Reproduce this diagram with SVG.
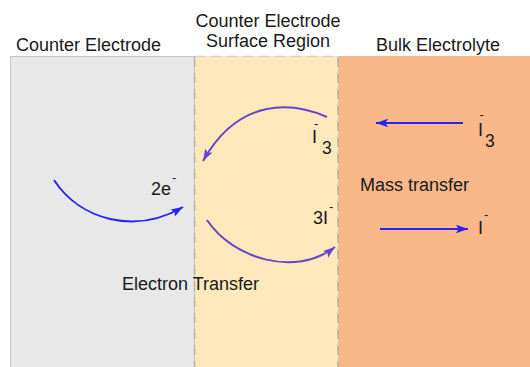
<svg xmlns="http://www.w3.org/2000/svg" width="530" height="367" viewBox="0 0 530 367">
<style>
text{font-family:"Liberation Sans",Arial,sans-serif;font-size:18px;fill:#1a1a1a}
.sub{font-size:17.5px}
.sup{font-size:13px}
.blue{stroke:#2a22f2;stroke-width:2;fill:none}
.purple{stroke:#6a44cc;stroke-width:2;fill:none}
.sep{stroke:#b8b0a8;stroke-width:1.5;stroke-dasharray:10,6;fill:none}
</style>
<defs>
<marker id="ab" markerUnits="userSpaceOnUse" markerWidth="14" markerHeight="10" refX="12" refY="5" orient="auto">
<path d="M0,0.8 L12,5 L0,9.2 L2.5,5 z" fill="#2a22f2"/>
</marker>
<marker id="ap" markerUnits="userSpaceOnUse" markerWidth="14" markerHeight="10" refX="12" refY="5" orient="auto">
<path d="M0,0.8 L12,5 L0,9.2 L2.5,5 z" fill="#6a44cc"/>
</marker>
</defs>
<rect width="530" height="367" fill="#ffffff"/>
<g id="counter-electrode">
<rect x="10.5" y="56.5" width="184" height="311" fill="#e8e8e8" stroke="#c6c6c6" stroke-width="1"/>
<text x="16" y="51">Counter Electrode</text>
</g>
<g id="surface-region">
<rect x="195" y="56" width="143" height="311" fill="#ffe8bc"/>
<line x1="195" y1="56.5" x2="338" y2="56.5" stroke="#d8d4cc" stroke-width="1.5" stroke-dasharray="10,6"/>
<text x="268" y="27" text-anchor="middle">Counter Electrode</text>
<text x="268" y="47" text-anchor="middle">Surface Region</text>
</g>
<g id="bulk-electrolyte">
<rect x="338" y="56" width="192" height="311" fill="#f9b889"/>
<text x="376" y="51">Bulk Electrolyte</text>
</g>
<g id="separators">
<line class="sep" x1="194.5" y1="57" x2="194.5" y2="367"/>
<line class="sep" x1="338" y1="57" x2="338" y2="367" stroke="#d8a888"/>
</g>
<g id="labels">
<text x="151" y="195">2e</text>
<text x="172" y="182" class="sup">-</text>
<text x="312" y="143">I</text>
<text x="314" y="128" class="sup">-</text>
<text x="322" y="154" class="sub">3</text>
<text x="313" y="224">3I</text>
<text x="329" y="211" class="sup">-</text>
<text x="360" y="191">Mass transfer</text>
<text x="478" y="136">I</text>
<text x="479.5" y="119" class="sup">-</text>
<text x="485" y="147" class="sub">3</text>
<text x="478" y="234">I</text>
<text x="484" y="219" class="sup">-</text>
<text x="122" y="290">Electron Transfer</text>
</g>
<g id="connectors">
<path class="blue" d="M54,180 C80,220 135,235 183,207" marker-end="url(#ab)"/>
<path class="purple" d="M327,117 C295,103 240,95 203,161" marker-end="url(#ap)"/>
<path class="purple" d="M207,220 C232,258 295,278 335,247" marker-end="url(#ap)"/>
<line class="blue" x1="463" y1="123" x2="376" y2="123" marker-end="url(#ab)"/>
<line class="blue" x1="380" y1="229" x2="468" y2="229" marker-end="url(#ab)"/>
</g>
</svg>
